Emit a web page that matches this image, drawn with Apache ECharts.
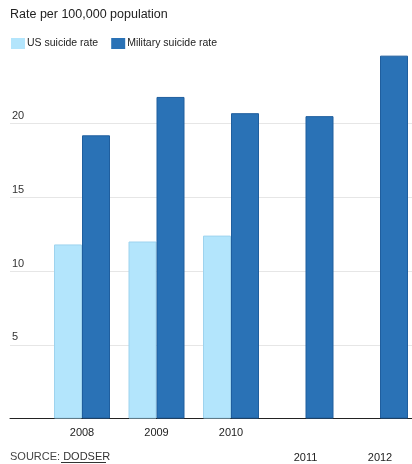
<!DOCTYPE html>
<html>
<head>
<meta charset="utf-8">
<script src="https://cdn.jsdelivr.net/npm/echarts@6/dist/echarts.min.js"></script>
<style>
html,body{margin:0;padding:0;background:#fff;}
#c{width:412px;height:464px;}
</style>
</head>
<body>
<div id="c"></div>
<script>
var years = ['2008', '2009', '2010', '2011', '2012'];
var usRate = [11.8, 12.0, 12.4, null, null];
var militaryRate = [19.2, 21.8, 20.7, 20.5, 24.6];
var yTicks = [0, 5, 10, 15, 20, 25];
var titleText = 'Rate per 100,000 population';
var seriesNames = ['US suicide rate', 'Military suicide rate'];
var sourceLabel = 'SOURCE: ';
var sourceName = 'DODSER';

var FONT = '"Liberation Sans", Arial, sans-serif';
var chart = echarts.init(document.getElementById('c'), null, {renderer: 'canvas'});

var option = {
  animation: false,
  backgroundColor: '#fff',
  title: {
    text: titleText,
    left: 10, top: 8, padding: 0,
    textStyle: {fontFamily: FONT, fontSize: 12.5, fontWeight: 'normal', color: '#222'}
  },
  legend: {
    left: 11, top: 38, padding: 0,
    icon: 'rect',
    itemWidth: 14, itemHeight: 11,
    itemGap: 13,
    itemStyle: {borderWidth: 0},
    textStyle: {fontFamily: FONT, fontSize: 10.5, color: '#222', padding: [0, 0, 0, -3]},
    data: seriesNames
  },
  grid: [
    {left: 10, right: 0, top: 49.75, height: 368.75, outerBoundsMode: 'none', containLabel: false},
    {left: 44.75, width: 372.5, top: 49.75, height: 368.75, outerBoundsMode: 'none', containLabel: false}
  ],
  xAxis: [
    {
      gridIndex: 0, type: 'value', min: 0, max: 1,
      axisLine: {show: true, onZero: false, lineStyle: {color: '#222', width: 1}},
      axisTick: {show: false}, axisLabel: {show: false}, splitLine: {show: false}
    },
    {
      gridIndex: 1, type: 'category', data: years,
      axisLine: {show: false}, axisTick: {show: false}, splitLine: {show: false},
      axisLabel: {
        margin: 2,
        fontFamily: FONT, fontSize: 11, color: '#222', lineHeight: 25,
        formatter: function (v, i) { return i >= 3 ? '\n' + v : v; }
      }
    }
  ],
  yAxis: [
    {
      gridIndex: 0, type: 'value', min: yTicks[0], max: yTicks[yTicks.length - 1], interval: 5,
      axisLine: {show: false}, axisTick: {show: false},
      splitLine: {show: true, showMinLine: false, showMaxLine: false, lineStyle: {color: '#e6e6e6', width: 1}},
      axisLabel: {
        inside: true, margin: 2, verticalAlign: 'bottom', padding: [0, 0, 2, 0],
        showMinLabel: false, showMaxLabel: false,
        fontFamily: FONT, fontSize: 11, color: '#333'
      }
    },
    {
      gridIndex: 1, type: 'value', min: yTicks[0], max: yTicks[yTicks.length - 1], interval: 5,
      show: false
    }
  ],
  series: [
    {
      name: seriesNames[0], type: 'bar', xAxisIndex: 1, yAxisIndex: 1,
      data: usRate, barWidth: 28, barGap: 0,
      itemStyle: {color: '#B3E5FC', borderColor: '#9ED3EE', borderWidth: 1}
    },
    {
      name: seriesNames[1], type: 'bar', xAxisIndex: 1, yAxisIndex: 1,
      data: militaryRate, barWidth: 28, barGap: 0,
      itemStyle: {color: '#2A72B6', borderColor: '#1F5E9E', borderWidth: 1}
    }
  ],
  graphic: [
    {
      type: 'text', left: 10, top: 451,
      style: {
        text: '{a|' + sourceLabel + '}{b|' + sourceName + '}',
        rich: {
          a: {fontFamily: FONT, fontSize: 11, fill: '#444'},
          b: {fontFamily: FONT, fontSize: 11, fill: '#333'}
        }
      }
    },
    {
      type: 'line', shape: {x1: 61, y1: 462.5, x2: 106, y2: 462.5},
      style: {stroke: '#333', lineWidth: 1}
    }
  ]
};
chart.setOption(option);
</script>
</body>
</html>
